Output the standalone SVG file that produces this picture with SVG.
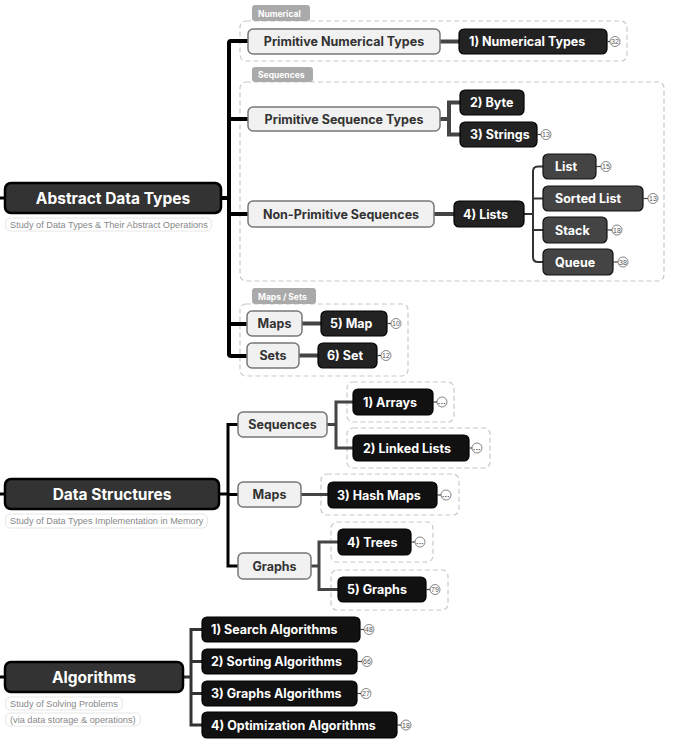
<svg xmlns="http://www.w3.org/2000/svg" width="677" height="742" viewBox="0 0 677 742">
<style>
text{font-family:Inter,"Noto Sans","Liberation Sans",sans-serif;dominant-baseline:central}
.root rect{fill:#333;stroke:#000;stroke-width:2.5}
.root text{fill:#fff;font-size:15.5px;font-weight:700;text-anchor:middle}
.light rect{fill:#f1f1f1;stroke:#777;stroke-width:1.5}
.light text{fill:#333;font-size:12.5px;font-weight:700;text-anchor:middle}
.dark rect{fill:#222;stroke:#000;stroke-width:1.2}
.mid rect{fill:#444;stroke:#111;stroke-width:1.2}
.blk rect{fill:#111;stroke:#000;stroke-width:1.2}
.dark text,.mid text,.blk text{fill:#fff;font-size:12.5px;font-weight:700}
.sub rect{fill:#fff;stroke:#e6e6e6;stroke-width:1}
.sub text{fill:#888;font-size:9.2px;font-family:"Liberation Sans",Arial,sans-serif}
.grp{fill:none;stroke:#c8c8c8;stroke-width:1.2;stroke-dasharray:5 3}
.tab rect{fill:#aaa}
.tab text{fill:#fff;font-size:8.5px;font-weight:700}
.badge circle{fill:#fff;stroke:#666;stroke-width:0.8}
.badge text{fill:#555;font-size:7px;text-anchor:middle;font-family:"Liberation Sans",Arial,sans-serif}
.badge text.dots{font-size:8px;font-weight:700;fill:#444}
.badge line{stroke:#444;stroke-width:1.2}
#connectors path{fill:none}
.c0{stroke:#000;stroke-width:4}
.c1{stroke:#444;stroke-width:4}
.c2{stroke:#333;stroke-width:2}
.c3{stroke:#000;stroke-width:3}
.c4{stroke:#444;stroke-width:3}
.c5{stroke:#333;stroke-width:3}
</style>

<g id="groups">
<rect class="grp" x="240" y="21" width="387" height="40" rx="6"/>
<rect class="grp" x="240" y="82" width="424" height="199" rx="6"/>
<rect class="grp" x="240" y="304" width="168" height="72" rx="6"/>
<rect class="grp" x="347" y="382" width="107" height="40" rx="6"/>
<rect class="grp" x="347" y="428" width="143" height="40" rx="6"/>
<rect class="grp" x="321" y="474" width="138" height="41" rx="6"/>
<rect class="grp" x="331" y="522" width="102" height="40" rx="6"/>
<rect class="grp" x="331" y="570" width="117" height="40" rx="6"/>
<g class="tab" id="tab-numerical"><rect x="252" y="5" width="58" height="16" rx="3"/><text x="258" y="13.5">Numerical</text></g>
<g class="tab" id="tab-sequences"><rect x="252" y="67" width="61" height="15" rx="3"/><text x="258" y="75">Sequences</text></g>
<g class="tab" id="tab-mapssets"><rect x="252" y="288" width="64" height="16" rx="3"/><text x="258" y="296.5">Maps / Sets</text></g>
</g>

<g id="connectors">
<path class="c3" d="M0 198H6M0 494H6M0 677H6"/>
<path class="c0" d="M221 198H229M248 41H231Q229 41 229 43V354Q229 356 231 356H248M229 119H248M229 214H248M229 324H248"/>
<path class="c1" d="M440 41.5H459M440 119H449M460 102.5H449V134.5H460M434 214H454M302 323.5H321M299 355.5H318"/>
<path class="c2" d="M524 214H533M543 166.5H538Q533 166.5 533 171.5V257Q533 262 538 262H543M533 198.5H543M533 230H543"/>
<path class="c3" d="M219 494H228M238 424.5H228V566H238M228 494.5H238"/>
<path class="c4" d="M327 424.5H336M353 402H336V448H353M301 494.5H328M311 566H319M338 542H319V589.5H338"/>
<path class="c5" d="M183 677H191M202 629.5H191V725H202M191 661.5H202M191 693.5H202"/>
</g>

<g id="n-adt" class="root"><rect x="5" y="183" width="216" height="30" rx="6"/><text x="113" y="198">Abstract Data Types</text></g>
<g id="n-adt-sub" class="sub"><rect x="5.5" y="218" width="206" height="13" rx="5"/><text x="10" y="224.5">Study of Data Types &amp; Their Abstract Operations</text></g>

<g id="n-pnt" class="light"><rect x="248" y="29" width="192" height="25" rx="5"/><text x="344" y="41.5">Primitive Numerical Types</text></g>
<g id="n-nt" class="dark"><rect x="459" y="29" width="148" height="25" rx="5"/><text x="469" y="41.5">1) Numerical Types</text></g>
<g class="badge"><line x1="607" y1="41.5" x2="610" y2="41.5"/><circle cx="615" cy="41.5" r="5"/><text x="615" y="41.5">32</text></g>

<g id="n-pst" class="light"><rect x="248" y="107" width="192" height="24" rx="5"/><text x="344" y="119">Primitive Sequence Types</text></g>
<g id="n-byte" class="dark"><rect x="460" y="90" width="64" height="25" rx="5"/><text x="470" y="102.5">2) Byte</text></g>
<g id="n-strings" class="dark"><rect x="460" y="122" width="77" height="25" rx="5"/><text x="470" y="134.5">3) Strings</text></g>
<g class="badge"><line x1="537" y1="134.5" x2="541" y2="134.5"/><circle cx="546" cy="134.5" r="5"/><text x="546" y="134.5">13</text></g>

<g id="n-nps" class="light"><rect x="248" y="201" width="186" height="26" rx="5"/><text x="341" y="214">Non-Primitive Sequences</text></g>
<g id="n-lists" class="dark"><rect x="454" y="201" width="70" height="26" rx="5"/><text x="463" y="214">4) Lists</text></g>
<g id="n-list" class="mid"><rect x="543" y="154" width="53" height="25" rx="5"/><text x="555" y="166.5">List</text></g>
<g class="badge"><line x1="596" y1="166.5" x2="601" y2="166.5"/><circle cx="606" cy="166.5" r="5"/><text x="606" y="166.5">15</text></g>
<g id="n-sorted" class="mid"><rect x="543" y="186" width="100" height="25" rx="5"/><text x="555" y="198.5">Sorted List</text></g>
<g class="badge"><line x1="643" y1="198.5" x2="648" y2="198.5"/><circle cx="653" cy="198.5" r="5"/><text x="653" y="198.5">13</text></g>
<g id="n-stack" class="mid"><rect x="543" y="217" width="64" height="26" rx="5"/><text x="555" y="230">Stack</text></g>
<g class="badge"><line x1="607" y1="230" x2="612" y2="230"/><circle cx="617" cy="230" r="5"/><text x="617" y="230">18</text></g>
<g id="n-queue" class="mid"><rect x="543" y="249" width="70" height="26" rx="5"/><text x="555" y="262">Queue</text></g>
<g class="badge"><line x1="613" y1="262" x2="618" y2="262"/><circle cx="623" cy="262" r="5"/><text x="623" y="262">38</text></g>

<g id="n-maps" class="light"><rect x="247" y="311" width="55" height="25" rx="5"/><text x="274.5" y="323.5">Maps</text></g>
<g id="n-map" class="dark"><rect x="321" y="311" width="66" height="25" rx="5"/><text x="330" y="323.5">5) Map</text></g>
<g class="badge"><line x1="387" y1="323.5" x2="391" y2="323.5"/><circle cx="396" cy="323.5" r="5"/><text x="396" y="323.5">10</text></g>
<g id="n-sets" class="light"><rect x="247" y="343" width="52" height="25" rx="5"/><text x="273" y="355.5">Sets</text></g>
<g id="n-set" class="dark"><rect x="318" y="343" width="59" height="25" rx="5"/><text x="327" y="355.5">6) Set</text></g>
<g class="badge"><line x1="377" y1="355.5" x2="381" y2="355.5"/><circle cx="386" cy="355.5" r="5"/><text x="386" y="355.5">12</text></g>

<g id="n-ds" class="root"><rect x="5" y="479" width="214" height="30" rx="6"/><text x="112" y="494">Data Structures</text></g>
<g id="n-ds-sub" class="sub"><rect x="5.5" y="514" width="202" height="14" rx="5"/><text x="10" y="521">Study of Data Types Implementation in Memory</text></g>
<g id="n-ds-seq" class="light"><rect x="238" y="412" width="89" height="25" rx="5"/><text x="282.5" y="424.5">Sequences</text></g>
<g id="n-ds-maps" class="light"><rect x="238" y="482" width="63" height="25" rx="5"/><text x="269.5" y="494.5">Maps</text></g>
<g id="n-ds-graphs" class="light"><rect x="238" y="553" width="73" height="26" rx="5"/><text x="274.5" y="566">Graphs</text></g>
<g id="n-arrays" class="blk"><rect x="353" y="389" width="80" height="26" rx="5"/><text x="363" y="402">1) Arrays</text></g>
<g class="badge"><line x1="433" y1="402" x2="437" y2="402"/><circle cx="442" cy="402" r="5"/><text class="dots" x="442" y="403.5">···</text></g>
<g id="n-ll" class="blk"><rect x="353" y="435" width="116" height="26" rx="5"/><text x="363" y="448">2) Linked Lists</text></g>
<g class="badge"><line x1="469" y1="448" x2="472" y2="448"/><circle cx="477" cy="448" r="5"/><text class="dots" x="477" y="449.5">···</text></g>
<g id="n-hm" class="blk"><rect x="328" y="482" width="109" height="26" rx="5"/><text x="337" y="495">3) Hash Maps</text></g>
<g class="badge"><line x1="437" y1="495" x2="441" y2="495"/><circle cx="446" cy="495" r="5"/><text class="dots" x="446" y="496.5">···</text></g>
<g id="n-trees" class="blk"><rect x="338" y="529" width="73" height="26" rx="5"/><text x="347" y="542">4) Trees</text></g>
<g class="badge"><line x1="411" y1="542" x2="415" y2="542"/><circle cx="420" cy="542" r="5"/><text class="dots" x="420" y="543.5">···</text></g>
<g id="n-graphs" class="blk"><rect x="338" y="577" width="88" height="25" rx="5"/><text x="347" y="589.5">5) Graphs</text></g>
<g class="badge"><line x1="426" y1="589.5" x2="430" y2="589.5"/><circle cx="435" cy="589.5" r="5"/><text x="435" y="589.5">79</text></g>

<g id="n-alg" class="root"><rect x="5" y="662" width="178" height="30" rx="6"/><text x="94" y="677">Algorithms</text></g>
<g id="n-alg-sub1" class="sub"><rect x="5.5" y="697" width="117" height="13" rx="5"/><text x="10" y="703.5">Study of Solving Problems</text></g>
<g id="n-alg-sub2" class="sub"><rect x="5.5" y="713" width="135" height="13" rx="5"/><text x="10" y="719.5">(via data storage &amp; operations)</text></g>
<g id="n-search" class="blk"><rect x="202" y="617" width="158" height="25" rx="5"/><text x="211" y="629.5">1) Search Algorithms</text></g>
<g class="badge"><line x1="360" y1="629.5" x2="364" y2="629.5"/><circle cx="369" cy="629.5" r="5"/><text x="369" y="629.5">48</text></g>
<g id="n-sorting" class="blk"><rect x="202" y="649" width="155" height="25" rx="5"/><text x="211" y="661.5">2) Sorting Algorithms</text></g>
<g class="badge"><line x1="357" y1="661.5" x2="362" y2="661.5"/><circle cx="367" cy="661.5" r="5"/><text x="367" y="661.5">66</text></g>
<g id="n-galg" class="blk"><rect x="202" y="681" width="155" height="25" rx="5"/><text x="211" y="693.5">3) Graphs Algorithms</text></g>
<g class="badge"><line x1="357" y1="693.5" x2="361" y2="693.5"/><circle cx="366" cy="693.5" r="5"/><text x="366" y="693.5">27</text></g>
<g id="n-opt" class="blk"><rect x="202" y="712" width="195" height="26" rx="5"/><text x="211" y="725">4) Optimization Algorithms</text></g>
<g class="badge"><line x1="397" y1="725" x2="401" y2="725"/><circle cx="406" cy="725" r="5"/><text x="406" y="725">18</text></g>
</svg>
